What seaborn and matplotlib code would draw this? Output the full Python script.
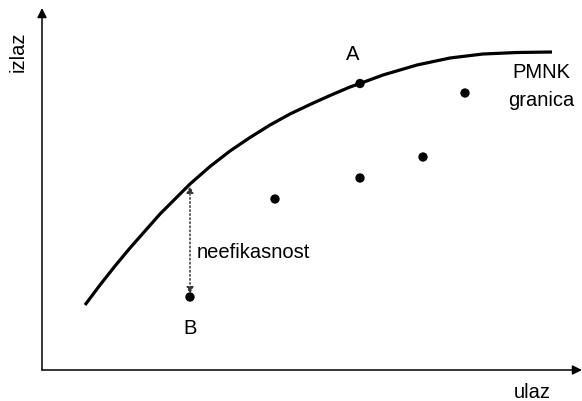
import numpy as np
import pandas as pd
import seaborn as sns
import matplotlib.pyplot as plt

# PMNK granica (frontier), in axis units
frontier_x = [43, 58, 73, 88, 103, 118, 133, 148, 168, 188, 208, 228,
              248, 268, 288, 308, 318, 341, 375, 408, 441, 475, 510]
frontier_y = [65, 85, 104, 122, 139, 156, 171, 186, 203.5, 219, 232.5, 245,
              256, 265.5, 274.5, 283, 286.5, 295, 305, 312, 316, 317.5, 318]

# observed units
point_names = ['A', 'p1', 'p2', 'p3', 'p4', 'B']
point_x = [318, 423, 381, 318, 233, 148]
point_y = [286.5, 277, 213, 192, 171, 73]

# point B projected on the frontier
b_frontier_y = 185

sns.set_style('white')
plt.rcParams['font.family'] = ['Liberation Sans', 'DejaVu Sans']

fig = plt.figure(figsize=(5.82, 4.01), dpi=100)
ax = fig.add_axes([0, 0, 1, 1])

frontier = pd.DataFrame({'ulaz': frontier_x, 'izlaz': frontier_y})
points = pd.DataFrame({'name': point_names, 'ulaz': point_x, 'izlaz': point_y})

sns.lineplot(data=frontier, x='ulaz', y='izlaz', sort=False, color='black',
             linewidth=2.3, ax=ax, solid_capstyle='butt', solid_joinstyle='round')
sns.scatterplot(data=points, x='ulaz', y='izlaz', color='black', s=45,
                edgecolor='none', ax=ax, zorder=3)

# inefficiency arrow (dotted, both ends)
bx = point_x[-1]
ax.annotate('', xy=(bx, b_frontier_y - 1), xytext=(bx, point_y[-1] + 3),
            arrowprops=dict(arrowstyle='<|-|>', linestyle=':', color='#333333',
                            linewidth=1.1, mutation_scale=10, shrinkA=0, shrinkB=0))

# axes with arrows
ax.annotate('', xy=(540, 0), xytext=(0, 0),
            arrowprops=dict(arrowstyle='-|>', color='black', linewidth=1.1,
                            mutation_scale=14, shrinkA=0, shrinkB=0))
ax.annotate('', xy=(0, 362), xytext=(0, 0),
            arrowprops=dict(arrowstyle='-|>', color='black', linewidth=1.1,
                            mutation_scale=14, shrinkA=0, shrinkB=0))

fs = 14.5
tc = 'black'
ax.text(311, 316, 'A', fontsize=fs, ha='center', va='center', color=tc)
ax.text(148, 42, 'B', fontsize=fs, ha='center', va='center', color=tc)
ax.text(499, 298, 'PMNK', fontsize=fs, ha='center', va='center', color=tc)
ax.text(499, 270, 'granica', fontsize=fs, ha='center', va='center', color=tc)
ax.text(155, 117, 'neefikasnost', fontsize=fs, ha='left', va='center', color=tc)
ax.text(-24, 318, 'izlaz', fontsize=fs, ha='center', va='center', rotation=90, color=tc)
ax.text(490, -22, 'ulaz', fontsize=fs, ha='center', va='center', color=tc)

ax.set_xlim(-42, 540)
ax.set_ylim(-31, 370)
ax.set_axis_off()

plt.savefig('out.png', dpi=100)
